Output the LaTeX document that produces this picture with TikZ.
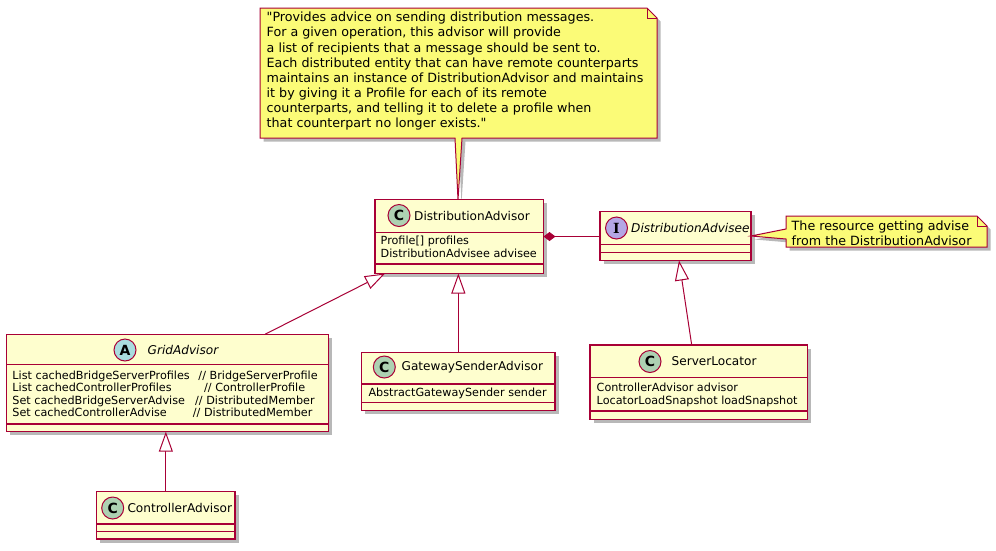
\documentclass[tikz,border=0pt]{standalone}
\usepackage{fontspec}
\setmainfont{DejaVu Sans}[Ligatures=TeXOff]
\newfontfamily\serifbold{DejaVu Serif}
\usetikzlibrary{arrows.meta,shadows,calc}
\definecolor{bordr}{HTML}{A80036}
\definecolor{clsfill}{HTML}{FEFECE}
\definecolor{notefill}{HTML}{FBFB77}
\definecolor{circC}{HTML}{ADD1B2}
\definecolor{circA}{HTML}{A9DCDF}
\definecolor{circI}{HTML}{B4A7E5}
\newcommand\memfont{\fontsize{11.2}{12.6}\selectfont}
\newcommand\ttlfont{\fontsize{12.1}{14}\selectfont}
\newcommand\notefont{\fontsize{12.7}{15.1}\selectfont}
\newcommand\dq{\char34\relax}
\tikzset{
  shad/.style={drop shadow={shadow xshift=3.5pt, shadow yshift=-3.5pt, opacity=0.28, fill=black}},
  cls/.style={draw=bordr, fill=clsfill, line width=1.2pt, inner sep=0pt, outer sep=0pt, anchor=north west, shad},
  sepl/.style={draw=bordr, line width=1.1pt},
  circ/.style={circle, draw=bordr, line width=1pt, minimum size=22pt, inner sep=0pt, font=\fontsize{14}{14}\selectfont\bfseries},
  ttl/.style={anchor=west, inner sep=0pt, font=\ttlfont},
  mem/.style={anchor=west, inner sep=0pt, align=left, font=\memfont},
  notebox/.style={draw=bordr, fill=notefill, line width=1pt, shad},
  notetext/.style={anchor=north west, inner sep=0pt, align=left, font=\notefont},
  inh/.style={draw=bordr, line width=1pt, -{Triangle[open, length=20pt, width=14pt, fill=white]}},
  comp/.style={draw=bordr, line width=1pt, {Diamond[length=12pt, width=9pt, fill=bordr]}-}
}
\begin{document}
\begin{tikzpicture}[x=1pt,y=-1pt]
\fill[white] (0,0) rectangle (996,550);
\useasboundingbox (0,0) rectangle (996,550);

% top note
\draw[notebox] (260,8) -- (647,8) -- (657,18) -- (657,138) -- (462,138) -- (458,199.5) -- (455,138) -- (260,138) -- cycle;
\draw[draw=bordr, line width=1pt] (647,8) -- (647,18) -- (657,18);
\node[notetext] (n1) at (266.5,12) {\dq Provides advice on sending distribution messages.\\
For a given operation, this advisor will provide\\
a list of recipients that a message should be sent to.\\
Each distributed entity that can have remote counterparts\\
maintains an instance of DistributionAdvisor and maintains\\
it by giving it a Profile for each of its remote\\
counterparts, and telling it to delete a profile when\\
that counterpart no longer exists.\dq};

% DistributionAdvisor
\node[cls, minimum width=168.5pt, minimum height=74pt] (da) at (375,199.5) {};
\draw[sepl] ($(da.north west)+(0,33.2)$) -- ($(da.north east)+(0,33.2)$);
\draw[sepl] ($(da.north west)+(0,64.5)$) -- ($(da.north east)+(0,64.5)$);
\node[circ, fill=circC] (daC) at (399,215.5) {C};
\node[ttl] (daT) at (414,215.5) {DistributionAdvisor};
\node[mem] (daM) at (380.5,247) {Profile[] profiles\\DistributionAdvisee advisee};

% DistributionAdvisee
\node[cls, minimum width=151pt, minimum height=49pt] (dae) at (600,211.5) {};
\draw[sepl] ($(dae.north west)+(0,32.8)$) -- ($(dae.north east)+(0,32.8)$);
\draw[sepl] ($(dae.north west)+(0,40.8)$) -- ($(dae.north east)+(0,40.8)$);
\node[circ, fill=circI, font=\fontsize{14}{14}\selectfont\serifbold\bfseries] (daeC) at (616.5,228) {I};
\node[ttl, font=\ttlfont\itshape] (daeT) at (631,228) {DistributionAdvisee};

% right note
\draw[notebox] (786,216) -- (977,216) -- (987,226) -- (987,247) -- (786,247) -- (786,239) -- (dae.east) -- (786,229) -- cycle;
\draw[draw=bordr, line width=1pt] (977,216) -- (977,226) -- (987,226);
\node[notetext] (n2) at (791.5,220.5) {The resource getting advise\\from the DistributionAdvisor};

% GridAdvisor
\node[cls, minimum width=321.8pt, minimum height=97.4pt] (grid) at (6.5,334.3) {};
\draw[sepl] ($(grid.north west)+(0,30)$) -- ($(grid.north east)+(0,30)$);
\draw[sepl] ($(grid.north west)+(0,89.7)$) -- ($(grid.north east)+(0,89.7)$);
\node[circ, fill=circA] (gridC) at (125,350) {A};
\node[ttl, font=\ttlfont\itshape] (gridT) at (147.5,350) {GridAdvisor};
\node[mem] (gridM) at (12.3,394.3) {\makebox[186pt][l]{List cachedBridgeServerProfiles}// BridgeServerProfile\\
\makebox[191.7pt][l]{List cachedControllerProfiles}// ControllerProfile\\
\makebox[182.7pt][l]{Set cachedBridgeServerAdvise}// DistributedMember\\
\makebox[180.4pt][l]{Set cachedControllerAdvise}// DistributedMember};

% GatewaySenderAdvisor
\node[cls, minimum width=193.3pt, minimum height=58pt] (gw) at (361.7,352.7) {};
\draw[sepl] ($(gw.north west)+(0,31.3)$) -- ($(gw.north east)+(0,31.3)$);
\draw[sepl] ($(gw.north west)+(0,50)$) -- ($(gw.north east)+(0,50)$);
\node[circ, fill=circC] (gwC) at (384.3,367) {C};
\node[ttl] (gwT) at (401.5,367) {GatewaySenderAdvisor};
\node[mem] (gwM) at (368.3,393.3) {AbstractGatewaySender sender};

% ServerLocator
\node[cls, minimum width=217.7pt, minimum height=74.3pt] (sl) at (590,345) {};
\draw[sepl] ($(sl.north west)+(0,32.7)$) -- ($(sl.north east)+(0,32.7)$);
\draw[sepl] ($(sl.north west)+(0,66)$) -- ($(sl.north east)+(0,66)$);
\node[circ, fill=circC] (slC) at (650,361.5) {C};
\node[ttl] (slT) at (671.5,361.5) {ServerLocator};
\node[mem] (slM) at (596.5,394.7) {ControllerAdvisor advisor\\LocatorLoadSnapshot loadSnapshot};

% ControllerAdvisor
\node[cls, minimum width=138.3pt, minimum height=47.3pt] (ca) at (96.7,491.7) {};
\draw[sepl] ($(ca.north west)+(0,32.3)$) -- ($(ca.north east)+(0,32.3)$);
\draw[sepl] ($(ca.north west)+(0,40)$) -- ($(ca.north east)+(0,40)$);
\node[circ, fill=circC] (caC) at (112.7,508) {C};
\node[ttl] (caT) at (127.3,508) {ControllerAdvisor};

% connectors
\draw[comp] (da.east) -- (dae.west |- da.east);
\draw[inh] ($(grid.north west)+(258.5,0)$) -- ($(da.south west)+(10,0)$);
\draw[inh] (gw.north) -- (gw.north |- da.south);
\draw[inh] ($(sl.north west)+(101.7,0)$) -- ($(dae.south west)+(79,0)$);
\draw[inh] (ca.north) -- (ca.north |- grid.south);
\end{tikzpicture}
\end{document}
